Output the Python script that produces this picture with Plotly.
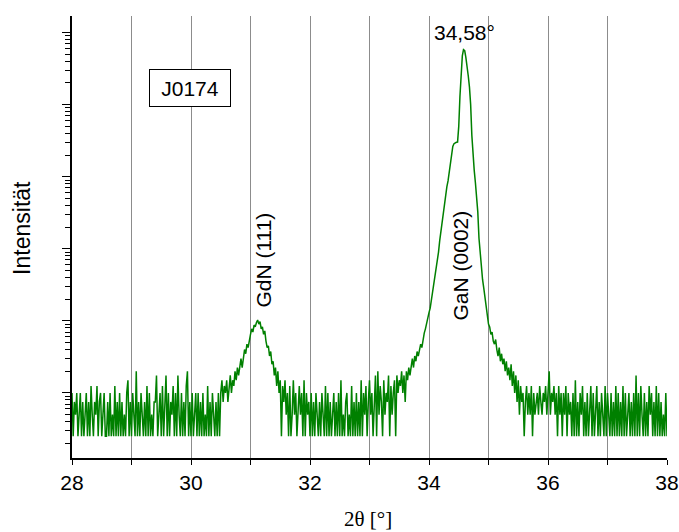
import numpy as np
import plotly.graph_objects as go

# ---- scan data (2theta scan, counts per step) ----
START = 28.0
STEP = 0.02
COUNT_TIME = 4.0  # s per step -> intensity in counts/s

base_a = ("4132412413" "1241315213" "2513412411" "3141215131" "4131214613"
          "1421813142" "1315141213" "3712415137" "1413251417" "2141315813"
          "1412414131" "4121513142" "13141")
gdn_peak = [4, 6, 3, 5, 4, 6, 3, 5, 7, 4, 6, 5, 8, 6, 9, 7, 10, 12, 9, 13,
            16, 14, 19, 17, 23, 26, 31, 28, 35, 33, 38, 41, 36, 39, 31, 33, 26, 29, 21, 17,
            18, 13, 15, 10, 11, 7, 9, 5, 8, 4, 6, 1, 5, 3, 6, 2]
base_b = ("4151262413" "5241614231" "4131421314" "2151413124" "1314161213"
          "4121513141" "3161425136" "2414718253" "1624371524")
gan_peak = [6, 1, 7, 4, 6, 5, 8, 4, 7, 3,
            8, 6, 9, 7, 10, 12, 9, 13, 11, 15,
            13, 16, 19, 17, 23, 27, 31, 38, 44, 52,
            60, 78, 95, 120, 150, 195, 260, 360, 520, 700,
            950, 1300, 1750, 2300, 2900, 3500, 4600, 6200, 8400, 10500,
            11500, 11900, 12000, 12100, 20000, 52000, 120000, 190000, 232000, 225000,
            180000, 140000, 100000, 70000, 40000, 15000, 7600, 4900, 3300, 2200,
            1300, 560, 330, 210, 150, 115, 88, 70, 50, 36,
            33, 26, 28, 21, 19, 22, 16, 13, 17, 11,
            14, 10, 12, 8, 11, 7, 9, 6, 10, 5,
            8, 4, 7, 3, 6, 2, 5, 3, 4, 1]
base_c = ("3524251423" "4253243524" "8243524152" "4142514231" "4161314251"
          "3141251413" "5131421514" "2141315141" "3151412413" "1417141521"
          "4131524131" "5141312141")

x_ticks = [28, 30, 32, 34, 36, 38]
x_minor = [29, 31, 33, 35, 37]

counts = ([int(c) for c in base_a] + gdn_peak + [int(c) for c in base_b]
          + gan_peak + [int(c) for c in base_c])
counts = np.array(counts, dtype=float)
theta = START + STEP * np.arange(len(counts))
intensity = counts / COUNT_TIME

y_major = [10.0 ** k for k in range(0, 6)]
y_minor = [m * 10.0 ** k for k in range(-1, 5) for m in range(2, 10)]
YR = [-0.903, 5.23]

fig = go.Figure()
fig.add_trace(go.Scatter(x=theta, y=intensity, mode="lines",
                         line=dict(color="#008000", width=1.5),
                         showlegend=False, hoverinfo="skip"))

FONT = "Liberation Sans, Arial, sans-serif"
GRID = "#8c8c8c"

fig.update_layout(
    width=679, height=532,
    margin=dict(l=72, r=12, t=16, b=74, autoexpand=False),
    paper_bgcolor="white", plot_bgcolor="white",
    font=dict(family=FONT, color="black", size=21),
    xaxis=dict(range=[28, 38], tickvals=x_ticks, ticks="outside", ticklen=5,
               tickwidth=1.3, tickcolor="black", automargin=False,
               showline=True, linewidth=1.5, linecolor="black",
               showgrid=True, gridcolor=GRID, gridwidth=1, zeroline=False,
               tickfont=dict(size=21, family=FONT),
               minor=dict(tickvals=x_minor, ticks="outside", ticklen=5,
                          tickwidth=1.3, tickcolor="black",
                          showgrid=True, gridcolor=GRID, gridwidth=1)),
    xaxis2=dict(range=[28, 38], overlaying="x", side="top", anchor="y",
                tickvals=x_ticks + x_minor, ticks="inside", ticklen=4,
                tickwidth=1.3, tickcolor="black", showticklabels=False,
                automargin=False,
                showline=True, linewidth=1.5, linecolor="black",
                showgrid=False, zeroline=False),
    yaxis=dict(type="log", range=YR, tickvals=y_major, ticks="outside",
               ticklen=8, tickwidth=1.3, tickcolor="black", automargin=False,
               showticklabels=False, showline=True, linewidth=1.5,
               linecolor="black", showgrid=False, zeroline=False,
               minor=dict(tickvals=y_minor, ticks="outside", ticklen=5,
                          tickwidth=1, tickcolor="black", showgrid=False)),
    yaxis2=dict(type="log", range=YR, overlaying="y", side="right",
                anchor="x", tickvals=y_major, ticks="inside", ticklen=7,
                tickwidth=1.3, tickcolor="black", showticklabels=False,
                automargin=False,
                showline=True, linewidth=1.5, linecolor="black",
                showgrid=False, zeroline=False,
                minor=dict(tickvals=y_minor, ticks="inside", ticklen=5,
                           tickwidth=1, tickcolor="black", showgrid=False)),
)

C = dict(xanchor="center", yanchor="middle", showarrow=False)
annotations = [
    dict(text="J0174", x=29.99, y=0.8375, xref="x", yref="paper",
         font=dict(size=21, family=FONT),
         bordercolor="black", borderwidth=1, borderpad=5,
         width=70, height=26, bgcolor="white", **C),
    dict(text="34,58°", x=34.59, y=0.962, xref="x", yref="paper",
         font=dict(size=21, family=FONT), **C),
    dict(text="GdN (111)", x=31.22, y=0.448, xref="x", yref="paper",
         textangle=-90, font=dict(size=21, family=FONT), **C),
    dict(text="GaN (0002)", x=34.53, y=0.4345, xref="x", yref="paper",
         textangle=-90, font=dict(size=21, family=FONT), **C),
    dict(text="Intensität", x=-0.0845, y=0.52, xref="paper", yref="paper",
         textangle=-90, font=dict(size=23, family=FONT), **C),
    dict(text="2θ [°]", x=0.497, y=-0.139, xref="paper", yref="paper",
         font=dict(size=21, family="Liberation Serif, Times New Roman, serif"),
         **C),
]
fig.update_layout(annotations=annotations)

fig.write_html("out.html")
